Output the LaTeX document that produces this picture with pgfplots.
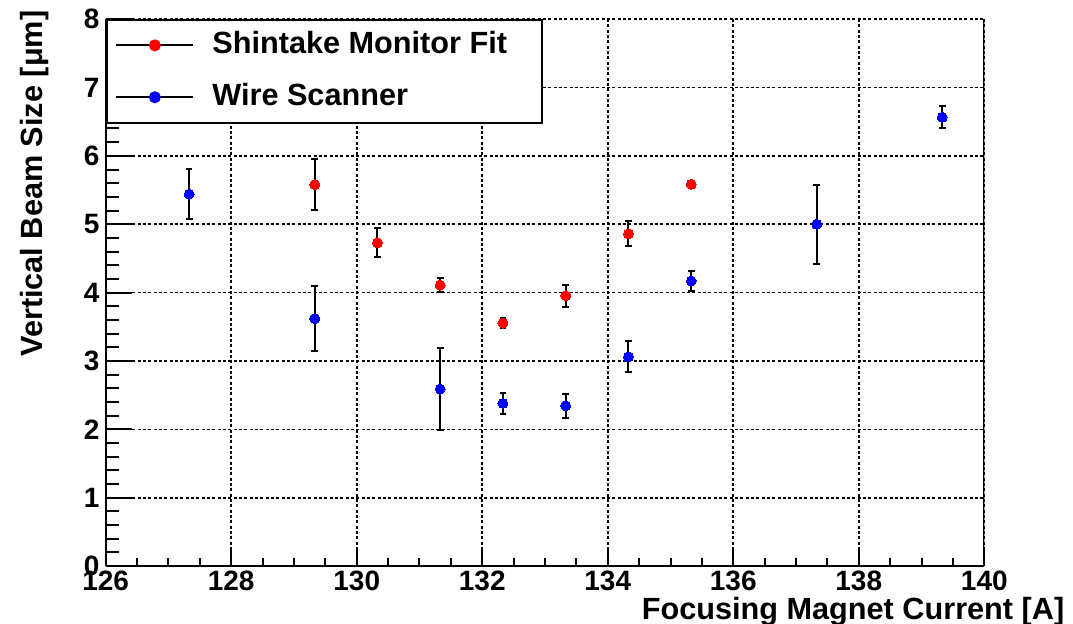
\documentclass[border=0pt]{standalone}
\usepackage{fontspec}
\setmainfont{Liberation Sans}
\usepackage{pgfplots}
\usepackage{pgfplotstable}
\pgfplotsset{compat=1.18}

% Shintake monitor fit: current [A], beam size [um], error
\pgfplotstableread{
x       y      e
129.33  5.58   0.375
130.33  4.73   0.21
131.33  4.11   0.10
132.33  3.555  0.08
133.33  3.955  0.16
134.33  4.86   0.18
135.33  5.585  0.03
}\shintake

% Wire scanner: current [A], beam size [um], error
\pgfplotstableread{
x       y      e
127.33  5.44   0.37
129.33  3.62   0.47
131.33  2.59   0.60
132.33  2.38   0.15
133.33  2.345  0.175
134.33  3.06   0.225
135.33  4.17   0.15
137.33  5.00   0.575
139.33  6.565  0.165
}\wirescan

\newcommand{\tickfont}{\bfseries\fontsize{8.4}{10}\selectfont}
\newcommand{\labfont}{\bfseries\fontsize{9.2}{11}\selectfont}

\pgfplotsset{
  common/.style={
    width=263.58pt, height=164.1pt, scale only axis,
    at={(0,0)}, anchor=south west,
    xmin=126, xmax=140, ymin=0, ymax=8,
    xtick={126,128,...,140}, minor x tick num=3,
    ytick={0,1,...,8}, minor y tick num=4,
    tick align=inside,
  },
  errbars/.style={
    error bars/.cd, y dir=both, y explicit,
    error bar style={draw=black, solid, line width=0.6pt},
    error mark=-,
    error mark options={draw=black, solid, line width=0.6pt, mark size=1pt, rotate=90},
  },
}

\begin{document}
\begin{tikzpicture}
% x tick marks (shorter than the y ones)
\begin{axis}[common,
  axis x line*=bottom, axis y line=none,
  major tick length=5.1pt, minor tick length=2.4pt,
  xticklabel=\empty,
  xtick style={black, line width=0.6pt},
  x axis line style={black, line width=0.6pt},
]
\end{axis}

\begin{axis}[common,
  axis x line*=bottom, axis y line*=left,
  axis line style={black, line width=0.6pt},
  major tick length=7.8pt, minor tick length=3.9pt,
  xtick style={draw=none},
  ytick style={black, line width=0.6pt},
  grid=major,
  major grid style={black, line width=0.5pt, dash pattern=on 0.9pt off 0.7pt},
  /pgf/number format/assume math mode=true,
  tick label style={font=\tickfont},
  xticklabel style={anchor=north, inner sep=0pt, yshift=-1.2pt},
  yticklabel style={anchor=east, inner sep=0pt, xshift=-1.7pt},
  xlabel={Focusing Magnet Current [A]},
  ylabel={Vertical Beam Size [μm]},
  label style={font=\labfont},
  xlabel style={at={(axis description cs:1.0918,-0.0985)}, anchor=base east, inner sep=0pt},
  ylabel style={at={(axis description cs:-0.0725,1.0166)}, anchor=base east, inner sep=0pt},
  legend cell align=left,
  legend style={at={(axis description cs:0,1)}, anchor=north west,
    draw=black, line width=0.6pt, fill=white,
    inner xsep=2.6pt, inner ysep=1.5pt, row sep=3.4pt, column sep=3.5pt,
    nodes={inner sep=2pt, text depth=0.15em},
    font=\labfont},
]
\draw[black, line width=0.5pt] (rel axis cs:1,0) -- (rel axis cs:1,1);

\addplot[red, only marks, mark=*, mark size=1.5pt,
  mark options={draw=red, fill=red, line width=0pt},
  legend image code/.code={
    \draw[black, line width=0.6pt] (0pt,0pt) -- (23pt,0pt);
    \fill[red] (11.55pt,0pt) circle (1.5pt);},
] table[x=x, y=y] {\shintake};
\addlegendentry{Shintake Monitor Fit\hspace*{6pt}}

\addplot[blue, only marks, mark=*, mark size=1.5pt,
  mark options={draw=blue, fill=blue, line width=0pt},
  legend image code/.code={
    \draw[black, line width=0.6pt] (0pt,0pt) -- (23pt,0pt);
    \fill[blue] (11.55pt,0pt) circle (1.5pt);},
] table[x=x, y=y] {\wirescan};
\addlegendentry{Wire Scanner}

% error bars on top of the markers
\addplot[forget plot, draw=none, mark=none, errbars]
  table[x=x, y=y, y error=e] {\shintake};
\addplot[forget plot, draw=none, mark=none, errbars]
  table[x=x, y=y, y error=e] {\wirescan};
\end{axis}

\pgfresetboundingbox
\path (-31.71pt,-17.37pt) rectangle (290.19pt,169.83pt);
\end{tikzpicture}
\end{document}
